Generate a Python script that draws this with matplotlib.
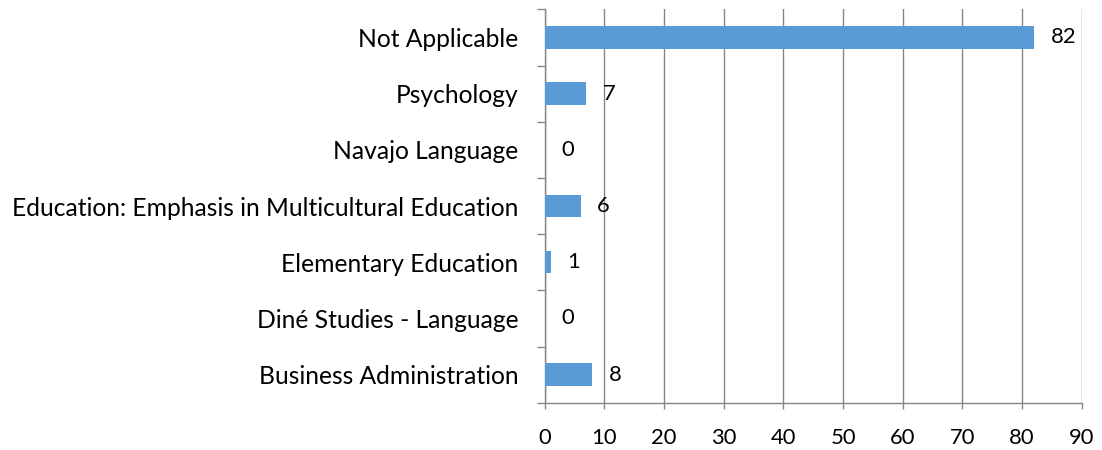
import numpy as np
import matplotlib
matplotlib.use("Agg")
import matplotlib.pyplot as plt
from matplotlib.ticker import MultipleLocator, FixedLocator

# categories listed bottom to top
categories = ["Business Administration", "Diné Studies - Language",
              "Elementary Education", "Education: Emphasis in Multicultural Education",
              "Navajo Language", "Psychology", "Not Applicable"]
counts = [8, 0, 1, 6, 0, 7, 82]

plt.rcParams['font.family'] = ['Lato', 'DejaVu Sans']
fs_cat = 17.7
fs_num = 15.8
grey = "#868686"

fig = plt.figure(figsize=(11.02, 4.5), dpi=100)
ax = fig.add_axes([0.4943, 0.1051, 0.4873, 0.8742])

y = np.arange(len(categories))
ax.barh(y, counts, height=0.4, color="#5B9BD5", zorder=3)

for yi, v in zip(y, counts):
    ax.annotate(str(v), (v, yi), xytext=(12, 0), textcoords="offset points",
                ha="left", va="center", fontsize=fs_num, color="black", zorder=4)

ax.set_xlim(0, 90)
ax.set_ylim(-0.5, len(categories) - 0.5)
ax.xaxis.set_major_locator(MultipleLocator(10))
ax.set_yticks(y)
ax.set_yticklabels(categories)
ax.yaxis.set_minor_locator(FixedLocator(np.arange(-0.5, len(categories), 1.0)))

ax.grid(axis="x", color=grey, linewidth=1.0, zorder=0)
for s in ["top", "right"]:
    ax.spines[s].set_visible(False)
for s in ["left", "bottom"]:
    ax.spines[s].set_color(grey)
    ax.spines[s].set_linewidth(1.0)

ax.tick_params(axis="y", which="major", length=0, pad=19, labelsize=fs_cat)
ax.tick_params(axis="y", which="minor", length=6, color=grey, width=1.0)
ax.tick_params(axis="x", which="major", length=4, color=grey, width=1.0, pad=14, labelsize=fs_num)

fig.savefig("out.png", dpi=100)
